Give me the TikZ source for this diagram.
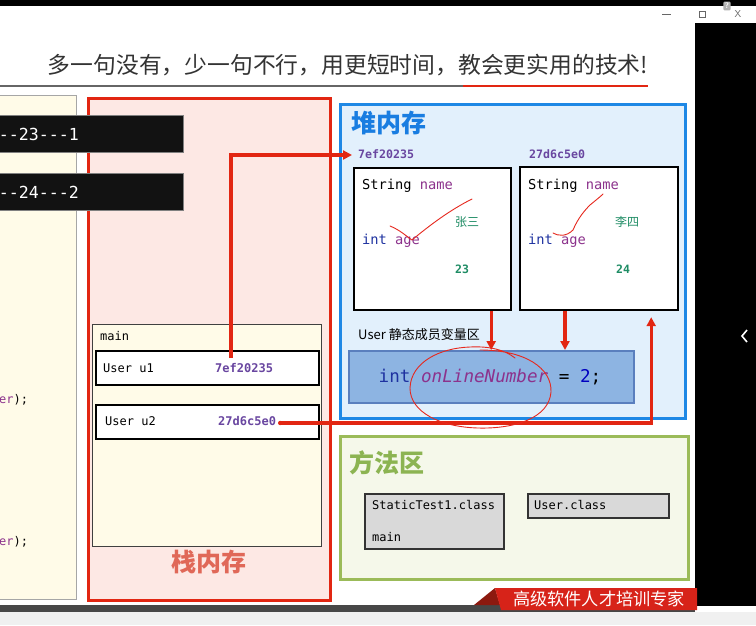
\documentclass[tikz,border=0pt]{standalone}
\usepackage{fontspec}
\setmonofont{DejaVu Sans Mono}
\newfontfamily\cjk{Noto Sans CJK SC}
\usetikzlibrary{positioning,arrows.meta,calc}
\definecolor{smRed}{RGB}{226,38,18}
\definecolor{smInk}{RGB}{230,40,30}
\definecolor{smPink}{RGB}{253,232,228}
\definecolor{smCream}{RGB}{255,251,232}
\definecolor{smBlue}{RGB}{30,136,229}
\definecolor{smSky}{RGB}{226,240,252}
\definecolor{smStatic}{RGB}{141,180,226}
\definecolor{smStaticEdge}{RGB}{90,127,190}
\definecolor{smGreen}{RGB}{155,187,89}
\definecolor{smMint}{RGB}{245,248,234}
\definecolor{smGray}{RGB}{217,217,217}
\definecolor{smPurple}{RGB}{105,70,160}
\definecolor{smName}{RGB}{140,50,140}
\definecolor{smKey}{RGB}{30,50,160}
\definecolor{smVal}{RGB}{30,140,100}
\definecolor{smStackText}{RGB}{224,104,88}
\definecolor{smHeapText}{RGB}{25,125,225}
\definecolor{smLeaf}{RGB}{140,180,82}
\definecolor{smBanner}{RGB}{215,35,25}
\definecolor{smFold}{RGB}{140,25,15}
\tikzset{
    base/.style={inner sep=0pt, anchor=west},
    pane/.style={rectangle, anchor=north west, inner sep=0pt},
    stackpane/.style={pane, draw=smRed, line width=2.6pt, fill=smPink},
    heappane/.style={pane, draw=smBlue, line width=3pt, fill=smSky},
    methodpane/.style={pane, draw=smGreen, line width=3pt, fill=smMint},
    mainframe/.style={pane, draw=black!75, line width=0.9pt, fill=smCream},
    slot/.style={pane, draw=black, line width=2.2pt, fill=white},
    object/.style={pane, draw=black, line width=2.2pt, fill=white},
    klass/.style={pane, draw=black!80, line width=1.5pt, fill=smGray},
    console/.style={pane, fill=black!93, draw=black!50, line width=0.5pt},
    codetext/.style={base, font=\fontsize{12}{14}\ttfamily},
    field/.style={base, font=\fontsize{13.7}{15}\ttfamily},
    addr/.style={base, font=\fontsize{11.6}{13}\ttfamily\bfseries, text=smPurple},
    valtext/.style={base, font=\fontsize{12}{14}\cjk, text=smVal},
    heading/.style={base, font=\fontsize{25}{28}\cjk\bfseries},
    pointer/.style={draw=smRed, line width=3.2pt, -{Triangle[length=9pt,width=9pt]}},
    ink/.style={draw=smInk, line width=0.9pt, line cap=round, line join=round}
}
\begin{document}
\begin{tikzpicture}[x=1pt, y=-1pt]
  \useasboundingbox (0,0) rectangle (756,625);
  % Screen around the slide
  \fill[white] (0,0) rectangle (756,625);
  \fill[black] (0,0) rectangle (756,6);
  \fill[black] (695,23) rectangle (756,606);
  \fill[black!72] (0,605) rectangle (695,612);
  \fill[black!6] (0,612) rectangle (756,625);
  \draw[black!60, line width=0.8pt] (662,14) -- (671,14);
  \draw[black!60, line width=0.8pt] (699,11) rectangle (705,17);
  \node[font=\fontsize{10}{10}\sffamily, text=black!60, inner sep=0pt] (close) at (738,14) {X};
  \node[font=\fontsize{8}{8}\sffamily\bfseries, text=white, fill=black!30, rounded corners=1pt, inner sep=1.5pt] (help) at (727,6) {?};
  \draw[white, line width=1.6pt] (747,330) -- (742,336) -- (747,342);

  % Title
  \node[font=\fontsize{22.8}{26}\cjk, text=black!80, inner sep=0pt] (title) at (348,65) {多一句没有，少一句不行，用更短时间，教会更实用的技术!};
  \draw[black!60, line width=1.5pt] (0,86) -- (463,86);
  \draw[smRed, line width=1.5pt] (463,86) -- (648,86);

  % Code pane on the left
  \node[pane, draw=black!35, line width=0.8pt, fill=smCream, minimum width=82pt, minimum height=504pt] (code) at (-6,95) {};
  \node[codetext] (er1) at (-1,400) {{\color{smName}er});};
  \node[codetext] (er2) at (-1,542) {{\color{smName}er});};

  % Stack
  \node[stackpane, minimum width=242pt, minimum height=502pt] (stack) at (87,97) {};
  \node[heading, anchor=center, text=smStackText] (stacklbl) at (209,562) {栈内存};
  \node[mainframe, minimum width=229pt, minimum height=222pt] (main) at (92,324) {};
  \node[codetext] (mainlbl) at (100,336) {main};
  \node[slot, minimum width=223pt, minimum height=34pt] (u1) at (95,350) {};
  \node[codetext] (u1lbl) at (103,368) {User u1};
  \node[addr, font=\fontsize{12}{14}\ttfamily\bfseries] (u1v) at (215,368) {7ef20235};
  \node[slot, minimum width=223pt, minimum height=34pt] (u2) at (95,404) {};
  \node[codetext] (u2lbl) at (105,421) {User u2};
  \node[addr, font=\fontsize{12}{14}\ttfamily\bfseries] (u2v) at (218,421) {27d6c5e0};

  % Console output
  \node[console, minimum width=189pt, minimum height=37pt] (out1) at (-6,115) {};
  \node[base, anchor=east, font=\fontsize{16.6}{18}\ttfamily, text=white] (out1txt) at (79,134) {--23---1};
  \node[console, minimum width=189pt, minimum height=37pt] (out2) at (-6,173) {};
  \node[base, anchor=east, font=\fontsize{16.6}{18}\ttfamily, text=white] (out2txt) at (79,192) {--24---2};

  % Heap
  \node[heappane, minimum width=345pt, minimum height=314pt] (heap) at (339,103) {};
  \node[heading, text=smHeapText] (heaplbl) at (351,123) {堆内存};
  \node[addr] (addr1) at (358,154) {7ef20235};
  \node[addr] (addr2) at (529,154) {27d6c5e0};
  \node[object, minimum width=157pt, minimum height=142pt] (obj1) at (353,167) {};
  \node[field] (name1) at (362,186) {String {\color{smName}name}};
  \node[valtext] (val1) at (455,222) {张三};
  \node[field] (age1) at (362,241) {{\color{smKey}int} {\color{smName}age}};
  \node[valtext, font=\fontsize{11.5}{13}\ttfamily\bfseries] (num1) at (455,269) {23};
  \node[object, minimum width=158pt, minimum height=143pt] (obj2) at (519,166) {};
  \node[field] (name2) at (528,186) {String {\color{smName}name}};
  \node[valtext] (val2) at (615,222) {李四};
  \node[field] (age2) at (528,241) {{\color{smKey}int} {\color{smName}age}};
  \node[valtext, font=\fontsize{11.5}{13}\ttfamily\bfseries] (num2) at (616,269) {24};
  \node[base, font=\fontsize{13}{15}\cjk] (staticlbl) at (358,335) {User 静态成员变量区};
  \node[pane, draw=smStaticEdge, line width=2pt, fill=smStatic, minimum width=285pt, minimum height=52pt] (static) at (348,350) {};
  \node[font=\fontsize{17.6}{20}\ttfamily, inner sep=0pt] (statictxt) at (490,377) {{\color{smKey}int} {\color{smName}\itshape onLineNumber} = {\color{blue!75!black}2};};

  % Method area
  \node[methodpane, minimum width=348pt, minimum height=143pt] (method) at (339,435) {};
  \node[heading, text=smLeaf] (methodlbl) at (349,463) {方法区};
  \node[klass, minimum width=139pt, minimum height=55pt] (cls1) at (364,493) {};
  \node[codetext] (cls1lbl) at (372,505) {StaticTest1.class};
  \node[codetext] (cls1main) at (372,537) {main};
  \node[klass, minimum width=141pt, minimum height=24pt] (cls2) at (527,493) {};
  \node[codetext] (cls2lbl) at (534,505) {User.class};

  % Banner
  \fill[smFold] (474,605) -- (495,588) -- (500,605) -- cycle;
  \fill[smBanner] (495,588) -- (697,588) -- (697,610) -- (501,610) -- cycle;
  \node[font=\fontsize{17.2}{20}\cjk, text=white, inner sep=0pt] (slogan) at (599,599) {高级软件人才培训专家};

  % References
  \coordinate (u1p) at ($(u1v.north west)+(16,-5)$);
  \draw[pointer] (u1p) |- ($(addr1.west)+(-6,1)$);
  \draw[pointer] ($(obj1.south east)+(-21,0)$) coordinate (o1p) -- (o1p |- static.north);
  \draw[pointer] ($(obj2.south west)+(46,0)$) coordinate (o2p) -- (o2p |- static.north);
  \fill[smRed] ($(u2v.east)+(4,2)$) circle (2.2pt);
  \draw[pointer] ($(u2v.east)+(4,2)$) -| ($(obj2.south east)+(-28,6)$);

  % Pen marks
  \draw[ink] (390,226) .. controls (400,230) and (406,236) .. (412,240) .. controls (430,225) and (450,210) .. (472,199);
  \draw[ink] (553,233) .. controls (558,236) and (566,237) .. (573,230) .. controls (578,218) and (585,210) .. (590,205) .. controls (596,200) and (600,197) .. (603,194);
  \draw[ink] (480,350) .. controls (525,350) and (552,368) .. (551,392) .. controls (549,418) and (515,429) .. (478,428) .. controls (440,427) and (410,412) .. (410,388) .. controls (411,362) and (440,348) .. (470,347) .. controls (490,346) and (505,350) .. (515,358);
\end{tikzpicture}
\end{document}
